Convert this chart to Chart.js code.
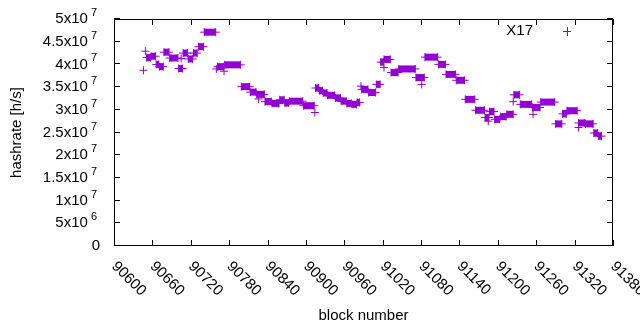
<!DOCTYPE html>
<html>
<head>
<meta charset="utf-8">
<script src="https://cdn.jsdelivr.net/npm/chart.js@4.4.1/dist/chart.umd.min.js"></script>
<style>
  html, body { margin: 0; padding: 0; background: #fff; }
  #wrap { width: 640px; height: 330px; }
</style>
</head>
<body>
<div id="wrap"><canvas id="hashChart" width="640" height="330"></canvas></div>
<script>
// runs of equal hashrate: first block, last block, value [h/s]
// (a single point has the same first and last block)
const runStart = [90646, 90649, 90651, 90658, 90666, 90671, 90678, 90687, 90701, 90705,
    90708, 90716, 90724, 90732, 90741, 90760, 90762, 90772, 90773, 90799,
    90813, 90823, 90826, 90836, 90847, 90859, 90867, 90874, 90896, 90914,
    90915, 90921, 90927, 90934, 90946, 90955, 90964, 90972, 90980, 90986,
    90987, 90998, 91010, 91017, 91022, 91022, 91033, 91045, 91072, 91081,
    91086, 91107, 91119, 91135, 91149, 91165, 91180, 91185, 91187, 91195,
    91204, 91214, 91225, 91224, 91235, 91254, 91255, 91267, 91290, 91301,
    91308, 91326, 91326, 91337, 91350, 91357];
const runEnd = [90646, 90649, 90657, 90665, 90670, 90677, 90686, 90700, 90707, 90705,
    90715, 90723, 90730, 90740, 90759, 90760, 90771, 90772, 90798, 90812,
    90822, 90835, 90826, 90846, 90858, 90866, 90873, 90895, 90913, 90914,
    90920, 90926, 90933, 90945, 90954, 90963, 90971, 90979, 90984, 90986,
    90997, 91009, 91016, 91021, 91032, 91022, 91044, 91071, 91085, 91081,
    91106, 91118, 91134, 91148, 91164, 91179, 91186, 91185, 91194, 91203,
    91213, 91224, 91234, 91224, 91253, 91266, 91255, 91289, 91300, 91307,
    91324, 91336, 91326, 91349, 91356, 91362];
const runHashrate = [3.87e7, 4.29e7, 4.15e7, 4.18e7, 4.00e7, 3.95e7, 4.27e7, 4.14e7, 3.91e7, 4.13e7,
    4.25e7, 4.12e7, 4.25e7, 4.39e7, 4.71e7, 3.90e7, 3.95e7, 3.85e7, 3.99e7, 3.51e7,
    3.39e7, 3.34e7, 3.24e7, 3.18e7, 3.14e7, 3.22e7, 3.15e7, 3.19e7, 3.09e7, 2.94e7,
    3.48e7, 3.42e7, 3.37e7, 3.32e7, 3.26e7, 3.19e7, 3.14e7, 3.12e7, 3.16e7, 3.52e7,
    3.45e7, 3.38e7, 3.56e7, 4.05e7, 4.11e7, 3.93e7, 3.82e7, 3.90e7, 3.71e7, 3.56e7,
    4.16e7, 4.00e7, 3.78e7, 3.65e7, 3.23e7, 2.99e7, 2.83e7, 2.75e7, 2.96e7, 2.79e7,
    2.85e7, 2.90e7, 3.33e7, 3.18e7, 3.12e7, 3.05e7, 2.90e7, 3.17e7, 2.69e7, 2.91e7,
    2.98e7, 2.71e7, 2.61e7, 2.69e7, 2.49e7, 2.42e7];

const xTicks = [90600, 90660, 90720, 90780, 90840, 90900, 90960, 91020, 91080, 91140, 91200, 91260, 91320, 91380];
const yTicks = [0, 5e6, 1e7, 1.5e7, 2e7, 2.5e7, 3e7, 3.5e7, 4e7, 4.5e7, 5e7];
const seriesName = 'X17';

const purple = '#9400d3';
const font = "'Liberation Sans', Arial, sans-serif";

// points for the chart, remembering which run each belongs to
const points = [];
const pointRun = [];
runStart.forEach(function(start, i) {
    points.push({ x: start, y: runHashrate[i] });
    pointRun.push(i);
    if (runEnd[i] !== start) {
        points.push({ x: runEnd[i], y: runHashrate[i] });
        pointRun.push(i);
    }
});

function yLabelParts(v) {
    if (v === 0) return ['0', ''];
    const exp = Math.floor(Math.log10(v) + 1e-9);
    const mant = Math.round(v / Math.pow(10, exp) * 10) / 10;
    return [mant + 'x10', String(exp)];
}

const frame = {
    id: 'frame',
    afterDraw(chart) {
        const ctx = chart.ctx;
        const a = chart.chartArea;
        const xs = chart.scales.x, ys = chart.scales.y;
        ctx.save();
        ctx.strokeStyle = '#000';
        ctx.lineWidth = 1;
        ctx.strokeRect(a.left + 0.5, a.top + 0.5, a.right - a.left - 1, a.bottom - a.top - 1);

        ctx.beginPath();
        xTicks.forEach(function(t) {
            const px = Math.round(xs.getPixelForValue(t)) + 0.5;
            ctx.moveTo(px, a.bottom); ctx.lineTo(px, a.bottom - 6);
            ctx.moveTo(px, a.top); ctx.lineTo(px, a.top + 6);
        });
        yTicks.forEach(function(t) {
            const py = Math.round(ys.getPixelForValue(t)) - 0.5;
            ctx.moveTo(a.left, py); ctx.lineTo(a.left + 6, py);
            ctx.moveTo(a.right, py); ctx.lineTo(a.right - 6, py);
        });
        ctx.stroke();

        ctx.fillStyle = '#000';
        // y tick labels with superscript exponent
        yTicks.forEach(function(t) {
            const py = ys.getPixelForValue(t);
            const parts = yLabelParts(t);
            ctx.textBaseline = 'middle';
            if (parts[1] === '') {
                ctx.font = '15px ' + font;
                ctx.textAlign = 'right';
                ctx.fillText(parts[0], 100, py);
                return;
            }
            ctx.font = '11px ' + font;
            ctx.textAlign = 'right';
            ctx.fillText(parts[1], 97, py - 6);
            const supW = ctx.measureText(parts[1]).width;
            ctx.font = '15px ' + font;
            ctx.fillText(parts[0], 97 - supW - 3, py);
        });

        // x tick labels, rotated clockwise
        ctx.font = '15px ' + font;
        ctx.textAlign = 'left';
        ctx.textBaseline = 'middle';
        xTicks.forEach(function(t) {
            const px = xs.getPixelForValue(t);
            ctx.save();
            ctx.translate(px, 264);
            ctx.rotate(Math.PI / 4);
            ctx.fillText(String(t), 0, 0);
            ctx.restore();
        });

        // axis titles
        ctx.textAlign = 'center';
        ctx.fillText('block number', (a.left + a.right) / 2, 316);
        ctx.save();
        ctx.translate(17, (a.top + a.bottom) / 2);
        ctx.rotate(-Math.PI / 2);
        ctx.fillText('hashrate [h/s]', 0, 0);
        ctx.restore();

        // key
        ctx.textAlign = 'right';
        ctx.fillText(seriesName, 533, 31);
        ctx.strokeStyle = purple;
        ctx.beginPath();
        ctx.moveTo(563, 31.5); ctx.lineTo(571, 31.5);
        ctx.moveTo(567.5, 27); ctx.lineTo(567.5, 36);
        ctx.stroke();
        ctx.restore();
    }
};

new Chart(document.getElementById('hashChart').getContext('2d'), {
    type: 'scatter',
    data: {
        datasets: [{
            label: seriesName,
            data: points,
            showLine: true,
            borderColor: purple,
            borderWidth: 7,
            borderCapStyle: 'butt',
            segment: {
                borderColor: function(ctx) {
                    return pointRun[ctx.p0DataIndex] === pointRun[ctx.p1DataIndex] ? purple : 'rgba(0,0,0,0)';
                }
            },
            pointStyle: 'cross',
            pointRadius: 4,
            pointBorderWidth: 1,
            pointBorderColor: purple,
            pointBackgroundColor: purple
        }]
    },
    options: {
        responsive: false,
        animation: false,
        layout: { padding: { left: 114, right: 27, top: 19, bottom: 84 } },
        plugins: {
            legend: { display: false },
            tooltip: { enabled: false }
        },
        scales: {
            x: { type: 'linear', min: 90600, max: 91380, display: false },
            y: { type: 'linear', min: 0, max: 5e7, display: false }
        }
    },
    plugins: [frame]
});
</script>
</body>
</html>
